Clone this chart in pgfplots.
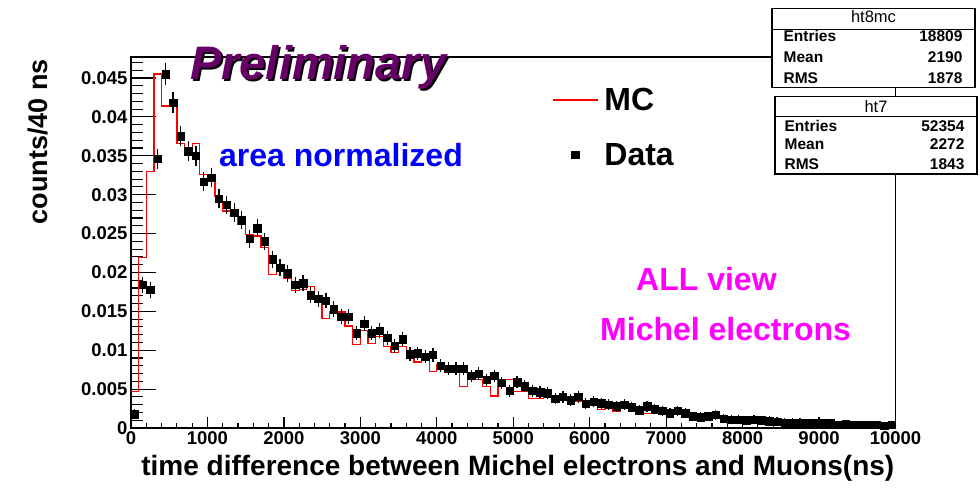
\documentclass[border=0pt]{standalone}
\usepackage{pgfplots}
\pgfplotsset{compat=1.18}
\usepackage{pgfplotstable}
\usepackage{fontspec}
\setmainfont{Liberation Sans}

\definecolor{prelim}{RGB}{102,0,102}
\definecolor{normblue}{RGB}{0,0,255}
\definecolor{rootmag}{RGB}{255,0,255}
\definecolor{mcred}{RGB}{255,0,0}

% legend samples: a long line for the simulation, a single marker for the data
\pgfplotsset{
  mclegend/.style={legend image code/.code={\draw[##1, mcred, line width=1.4pt] (0pt,-1pt) -- (45pt,-1pt);}},
  datalegend/.style={legend image code/.code={\draw[mark repeat=2, mark phase=2, ##1] plot coordinates {(0pt,-1pt) (22.5pt,-1pt) (45pt,-1pt)};}},
}

% measured data (bin centres, 100 ns bins, area normalised)
\pgfplotstableread{
x y
50 0.0018
150 0.0184
250 0.0178
350 0.0346
450 0.0455
550 0.0418
650 0.0375
750 0.0356
850 0.0350
950 0.0317
1050 0.0322
1150 0.0295
1250 0.0287
1350 0.0277
1450 0.0267
1550 0.0243
1650 0.0257
1750 0.0240
1850 0.0217
1950 0.0206
2050 0.0199
2150 0.0184
2250 0.0186
2350 0.0171
2450 0.0166
2550 0.0164
2650 0.0153
2750 0.0143
2850 0.0143
2950 0.0122
3050 0.0134
3150 0.0122
3250 0.0125
3350 0.0116
3450 0.0106
3550 0.0114
3650 0.0095
3750 0.0096
3850 0.0092
3950 0.0094
4050 0.0080
4150 0.0076
4250 0.0076
4350 0.0076
4450 0.0067
4550 0.0070
4650 0.0062
4750 0.0067
4850 0.0058
4950 0.0048
5050 0.0059
5150 0.0054
5250 0.0048
5350 0.0046
5450 0.0045
5550 0.0038
5650 0.0040
5750 0.0036
5850 0.0040
5950 0.0031
6050 0.0034
6150 0.0032
6250 0.0030
6350 0.0028
6450 0.0030
6550 0.0027
6650 0.0023
6750 0.0028
6850 0.0024
6950 0.0022
7050 0.0019
7150 0.0022
7250 0.0019
7350 0.0015
7450 0.0014
7550 0.0015
7650 0.0017
7750 0.0012
7850 0.0011
7950 0.0011
8050 0.0010
8150 0.0011
8250 0.0010
8350 0.0009
8450 0.0008
8550 0.0007
8650 0.0007
8750 0.0007
8850 0.0006
8950 0.0006
9050 0.0006
9150 0.0006
9250 0.0004
9350 0.0005
9450 0.0004
9550 0.0004
9650 0.0004
9750 0.0004
9850 0.0003
9950 0.0004
}\datatab

% simulation (bin lower edges, 100 ns bins, area normalised)
\pgfplotstableread{
x y
0 0.0047
100 0.0219
200 0.0330
300 0.0455
400 0.0414
500 0.0414
600 0.0366
700 0.0360
800 0.0366
900 0.0326
1000 0.0326
1100 0.0298
1200 0.0279
1300 0.0279
1400 0.0262
1500 0.0249
1600 0.0247
1700 0.0232
1800 0.0197
1900 0.0201
2000 0.0193
2100 0.0177
2200 0.0178
2300 0.0182
2400 0.0167
2500 0.0141
2600 0.0150
2700 0.0149
2800 0.0131
2900 0.0107
3000 0.0125
3100 0.0109
3200 0.0118
3300 0.0105
3400 0.0097
3500 0.0105
3600 0.0092
3700 0.0085
3800 0.0092
3900 0.0073
4000 0.0081
4100 0.0075
4200 0.0075
4300 0.0053
4400 0.0062
4500 0.0062
4600 0.0053
4700 0.0041
4800 0.0062
4900 0.0062
5000 0.0047
5100 0.0047
5200 0.0038
5300 0.0038
5400 0.0043
5500 0.0038
5600 0.0042
5700 0.0038
5800 0.0034
5900 0.0034
6000 0.0033
6100 0.0024
6200 0.0030
6300 0.0022
6400 0.0027
6500 0.0026
6600 0.0024
6700 0.0019
6800 0.0019
6900 0.0021
7000 0.0019
7100 0.0020
7200 0.0018
7300 0.0014
7400 0.0013
7500 0.0013
7600 0.0012
7700 0.0015
7800 0.0011
7900 0.0010
8000 0.0010
8100 0.0012
8200 0.0011
8300 0.0009
8400 0.0008
8500 0.0008
8600 0.0007
8700 0.0007
8800 0.0006
8900 0.0006
9000 0.0006
9100 0.0005
9200 0.0007
9300 0.0005
9400 0.0004
9500 0.0004
9600 0.0004
9700 0.0003
9800 0.0003
9900 0.0003
10000 0.0003
}\mctab

\begin{document}
\begin{tikzpicture}[x=1pt,y=1pt]
\useasboundingbox (0,0) rectangle (980,490);
\pgfplotsset{
  rootframe/.style={
    at={(131pt,62pt)}, anchor=south west,
    scale only axis, width=764.5pt, height=371pt,
    xmin=0, xmax=10000, ymin=0, ymax=0.0477,
    axis line style={line width=1.3pt},
    tick align=inside,
    tick style={line width=1.2pt, black},
    /pgf/number format/assume math mode=true,
    tick label style={font=\fontsize{18.5}{22}\selectfont\bfseries},
  }
}
% left axis with its long ticks
\begin{axis}[rootframe,
  xtick=\empty,
  ytick={0,0.005,0.01,0.015,0.02,0.025,0.03,0.035,0.04,0.045,0.05},
  minor y tick num=4, ytick pos=left,
  major tick length=25pt, minor tick length=12pt,
  yticklabel style={/pgf/number format/fixed, /pgf/number format/precision=3},
  scaled y ticks=false,
  every axis y label/.style={at={(axis description cs:-0.1216,0.772)}, rotate=90, anchor=center},
  ylabel={\fontsize{27}{30}\selectfont\bfseries counts/40 ns},
]
\end{axis}
% bottom axis, histograms and legend
\begin{axis}[rootframe,
  ytick=\empty,
  xtick={0,1000,2000,3000,4000,5000,6000,7000,8000,9000,10000},
  minor x tick num=4, xtick pos=bottom,
  major tick length=11pt, minor tick length=5.5pt,
  xticklabel style={/pgf/number format/1000 sep={}},
  scaled x ticks=false,
  every axis x label/.style={at={(axis description cs:0.506,-0.1267)}, anchor=base},
  xlabel={\fontsize{28}{32}\selectfont\bfseries time difference between Michel electrons and Muons(ns)},
  legend style={at={(axis cs:5507,0.04380)}, anchor=north west,
    draw=none, fill=none, inner sep=0pt, outer sep=0pt,
    row sep=32pt, column sep=6pt,
    font=\fontsize{32}{38}\selectfont\bfseries,
    nodes={inner sep=0pt, text height=23pt, text depth=0pt}},
  legend cell align=left,
]
\addplot[const plot, mcred, line width=1.3pt, mclegend]
  table[x=x, y=y] {\mctab};
\addlegendentry{MC}
\addplot[only marks, black, mark=square*, mark size=3.7pt, datalegend,
  error bars/.cd, y dir=both, y explicit,
  error bar style={line width=1.2pt},
  error mark options={line width=1.2pt, mark size=3.5pt}]
  table[x=x, y=y, y error expr={sqrt(\thisrow{y}/52354)}] {\datatab};
\addlegendentry{Data}
\end{axis}

% annotations
\node[anchor=base west, inner sep=0pt, text=black, font=\fontsize{47}{52}\selectfont\bfseries\itshape] at (192,408) {Preliminary};
\node[anchor=base west, inner sep=0pt, text=prelim, font=\fontsize{47}{52}\selectfont\bfseries\itshape] at (190,410) {Preliminary};
\node[anchor=base west, inner sep=0pt, text=normblue, font=\fontsize{32}{36}\selectfont\bfseries] at (219,323.3) {area normalized};
\node[anchor=base west, inner sep=0pt, text=rootmag, font=\fontsize{32}{36}\selectfont\bfseries] at (636,199) {ALL view};
\node[anchor=base west, inner sep=0pt, text=rootmag, font=\fontsize{32}{36}\selectfont\bfseries] at (600,149) {Michel electrons};

% statistics boxes
\begin{scope}[line width=1.2pt]
\draw[fill=white] (772,402.3) rectangle (975,481.7);
\draw (772,460.7) -- (975,460.7);
\node[anchor=base, inner sep=0pt, font=\fontsize{16.5}{18}\selectfont] at (873.5,467.2) {ht8mc};
\node[anchor=base west, inner sep=0pt, font=\fontsize{15.5}{18}\selectfont\bfseries] at (783,448.5) {Entries};
\node[anchor=base east, inner sep=0pt, font=\fontsize{15.5}{18}\selectfont\bfseries] at (963,448.5) {18809};
\node[anchor=base west, inner sep=0pt, font=\fontsize{15.5}{18}\selectfont\bfseries] at (783,427.2) {Mean};
\node[anchor=base east, inner sep=0pt, font=\fontsize{15.5}{18}\selectfont\bfseries] at (963,427.2) {2190};
\node[anchor=base west, inner sep=0pt, font=\fontsize{15.5}{18}\selectfont\bfseries] at (783,406.2) {RMS};
\node[anchor=base east, inner sep=0pt, font=\fontsize{15.5}{18}\selectfont\bfseries] at (963,406.2) {1878};

\draw[fill=white] (775,316) rectangle (977,393.3);
\draw (775,373.3) -- (977,373.3);
\node[anchor=base, inner sep=0pt, font=\fontsize{16.5}{18}\selectfont] at (876,377.2) {ht7};
\node[anchor=base west, inner sep=0pt, font=\fontsize{15.5}{18}\selectfont\bfseries] at (784,358.5) {Entries};
\node[anchor=base east, inner sep=0pt, font=\fontsize{15.5}{18}\selectfont\bfseries] at (965,358.5) {52354};
\node[anchor=base west, inner sep=0pt, font=\fontsize{15.5}{18}\selectfont\bfseries] at (784,340.2) {Mean};
\node[anchor=base east, inner sep=0pt, font=\fontsize{15.5}{18}\selectfont\bfseries] at (965,340.2) {2272};
\node[anchor=base west, inner sep=0pt, font=\fontsize{15.5}{18}\selectfont\bfseries] at (784,320.5) {RMS};
\node[anchor=base east, inner sep=0pt, font=\fontsize{15.5}{18}\selectfont\bfseries] at (965,320.5) {1843};
\end{scope}
\end{tikzpicture}
\end{document}
